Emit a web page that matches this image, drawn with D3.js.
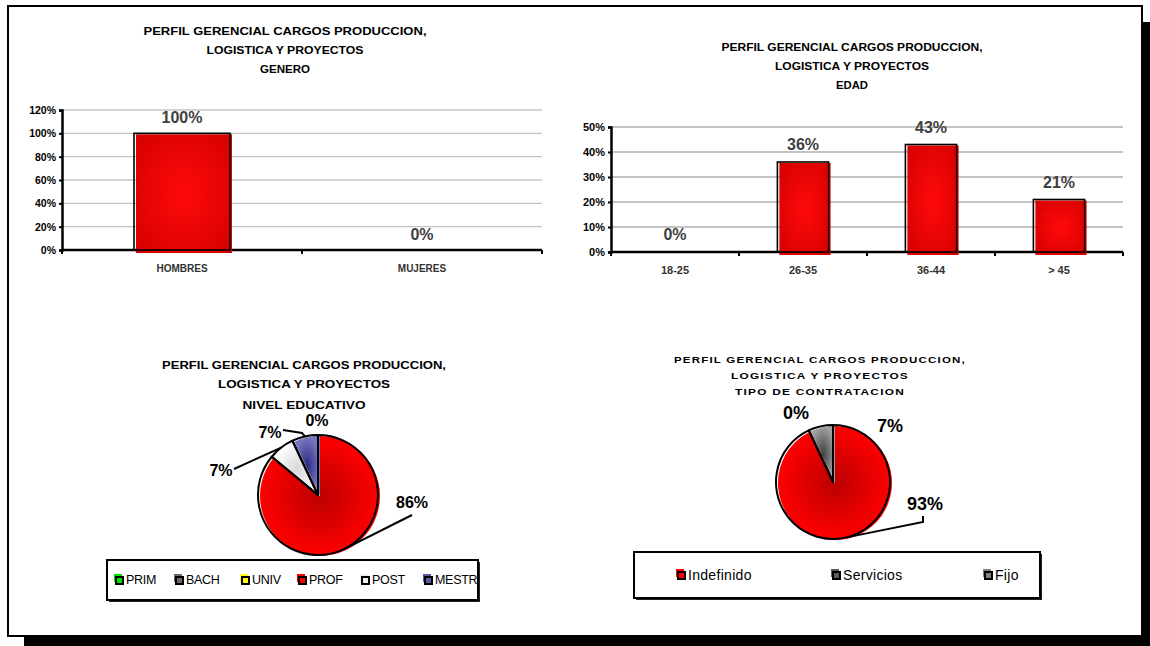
<!DOCTYPE html>
<html>
<head>
<meta charset="utf-8">
<script src="https://cdn.jsdelivr.net/npm/d3@7"></script>
<style>
  html, body { margin: 0; padding: 0; background: #fff; }
  svg { display: block; font-family: "Liberation Sans", Arial, sans-serif; }
</style>
</head>
<body>
<svg id="chart" width="1150" height="646"></svg>
<script>
// ---- data ----
const titleBase = ["PERFIL GERENCIAL CARGOS PRODUCCION,", "LOGISTICA Y PROYECTOS"];

const generoCategories = ["HOMBRES", "MUJERES"];
const generoValues = [1.00, 0.00];
const generoTicks = [0, 0.2, 0.4, 0.6, 0.8, 1.0, 1.2];

const edadCategories = ["18-25", "26-35", "36-44", "> 45"];
const edadValues = [0.00, 0.36, 0.43, 0.21];
const edadTicks = [0, 0.1, 0.2, 0.3, 0.4, 0.5];

const eduCategories = ["PRIM", "BACH", "UNIV", "PROF", "POST", "MESTR"];
const eduValues = [0, 0, 0, 86, 7, 7];
const eduColors = ["#00e000", "#6a6a6a", "#ffff00", "#ff0000", "#f0f0f0", "#5a5aa8"];

const contratoCategories = ["Indefinido", "Servicios", "Fijo"];
const contratoValues = [93, 0, 7];
const contratoColors = ["#ff0000", "#5c5c5c", "#808080"];

const pct = d3.format(".0%");
const svg = d3.select("#chart");
const defs = svg.append("defs");

// ---- gradients ----
function radial(id, inner, outer, r) {
  const g = defs.append("radialGradient").attr("id", id).attr("cx", "50%").attr("cy", "50%").attr("r", r || "60%");
  g.append("stop").attr("offset", "0%").attr("stop-color", inner);
  g.append("stop").attr("offset", "100%").attr("stop-color", outer);
}
radial("barRed", "#ff0a0a", "#d40000", "70%");
radial("pieRed", "#bb0000", "#ff0000", "50%");
radial("pieBlue", "#2a2a80", "#7878c0", "50%");
radial("pieWhite", "#d8d8d8", "#ffffff", "50%");
radial("pieGray", "#404040", "#a0a0a0", "50%");
radial("pieDark", "#3a3a3a", "#7a7a7a", "50%");

// ---- outer frame with drop shadow ----
svg.append("rect").attr("x", 24).attr("y", 22).attr("width", 1126).attr("height", 624).attr("fill", "#000");
svg.append("rect").attr("x", 8).attr("y", 6).attr("width", 1134).attr("height", 630)
  .attr("fill", "#fff").attr("stroke", "#000").attr("stroke-width", 2);

// ---- shared helpers ----
function title(lines, cx, ys, size, widths, spacing) {
  const t = svg.append("g").attr("font-weight", "bold").attr("font-size", size).attr("fill", "#000");
  lines.forEach((s, i) => {
    const el = t.append("text").attr("x", cx).attr("y", ys[i]).attr("text-anchor", "middle").text(s);
    if (spacing) el.attr("letter-spacing", spacing);
    if (widths && widths[i]) el.attr("textLength", widths[i]).attr("lengthAdjust", "spacingAndGlyphs");
  });
}

function barChart(opts) {
  const { cats, vals, ticks, x0, x1, yTop, yBottom, max, tickSize, catSize, labelOffset, gridWidth } = opts;
  const x = d3.scaleBand().domain(cats).range([x0, x1]).paddingInner(0.6).paddingOuter(0.3);
  const y = d3.scaleLinear().domain([0, max]).range([yBottom, yTop]);
  const g = svg.append("g");

  // gridlines
  g.selectAll("line.grid").data(ticks.filter(d => d > 0)).join("line")
    .attr("x1", x0).attr("x2", x1).attr("y1", d => y(d)).attr("y2", d => y(d))
    .attr("stroke", "#c4c4c4").attr("stroke-width", gridWidth);

  // y axis
  const ya = g.append("g").attr("transform", `translate(${x0},0)`)
    .call(d3.axisLeft(y).tickValues(ticks).tickFormat(d3.format(".0%")).tickSize(3).tickPadding(3));
  ya.select(".domain").attr("stroke", "#000").attr("stroke-width", 2.5);
  ya.selectAll(".tick line").attr("stroke", "#000").attr("stroke-width", 2);
  ya.selectAll(".tick text").attr("font-size", tickSize).attr("font-weight", "bold").attr("fill", "#000")
    .attr("font-family", "Liberation Sans, Arial, sans-serif");

  // x axis (ticks between categories)
  const xa = g.append("g").attr("transform", `translate(0,${yBottom})`);
  xa.append("line").attr("x1", x0).attr("x2", x1).attr("stroke", "#000").attr("stroke-width", 2.5);
  const edges = d3.range(cats.length + 1).map(i => x0 + i * x.step());
  xa.selectAll("line.tk").data(edges).join("line")
    .attr("x1", d => d).attr("x2", d => d).attr("y1", 0).attr("y2", 4)
    .attr("stroke", "#000").attr("stroke-width", 2);
  xa.selectAll("text").data(cats).join("text")
    .attr("x", d => x(d) + x.bandwidth() / 2).attr("y", 22)
    .attr("text-anchor", "middle").attr("font-size", catSize).attr("font-weight", "bold").attr("fill", "#333")
    .text(d => d);

  // bars: red body slightly offset from its black outline
  const data = cats.map((c, i) => ({ c, v: vals[i] }));
  const bars = g.selectAll("g.bar").data(data.filter(d => d.v > 0)).join("g");
  bars.append("rect")
    .attr("x", d => x(d.c) + 2).attr("y", d => y(d.v) + 1)
    .attr("width", x.bandwidth()).attr("height", d => yBottom - y(d.v) + 2)
    .attr("fill", "url(#barRed)");
  bars.append("rect")
    .attr("x", d => x(d.c)).attr("y", d => y(d.v))
    .attr("width", x.bandwidth()).attr("height", d => yBottom - y(d.v))
    .attr("fill", "none").attr("stroke", "#000").attr("stroke-width", 1.6);

  // value labels
  g.selectAll("text.val").data(data).join("text")
    .attr("x", d => x(d.c) + x.bandwidth() / 2).attr("y", d => y(d.v) - labelOffset)
    .attr("text-anchor", "middle").attr("font-size", 16).attr("font-weight", "bold").attr("fill", "#404040")
    .text(d => pct(d.v));
}

// ---- GENERO ----
title([...titleBase, "GENERO"], 285, [35, 54, 73], 11, [283, 157, 50]);
barChart({ cats: generoCategories, vals: generoValues, ticks: generoTicks, x0: 62, x1: 542,
  yTop: 110, yBottom: 250, max: 1.2, tickSize: 10.5, catSize: 10, labelOffset: 10, gridWidth: 1.3 });

// ---- EDAD ----
title([...titleBase, "EDAD"], 852, [51, 70, 89], 10.5, [261, 154, 32]);
barChart({ cats: edadCategories, vals: edadValues, ticks: edadTicks, x0: 611, x1: 1123,
  yTop: 127, yBottom: 252, max: 0.5, tickSize: 11, catSize: 11, labelOffset: 12, gridWidth: 2 });

// ---- pie helper ----
function pieChart(opts) {
  const { cats, vals, fills, cx, cy, r, labelFont, labels, legend } = opts;
  const pie = d3.pie().sort(null).value(d => d)(vals);
  const arc = d3.arc().innerRadius(0).outerRadius(r);
  const g = svg.append("g").attr("transform", `translate(${cx},${cy})`);

  // filled slices, drawn slightly offset from the outline
  g.append("g").attr("transform", "translate(2,1)")
    .selectAll("path").data(pie.filter(d => d.value > 0)).join("path")
    .attr("d", arc).attr("fill", d => fills[d.index]);
  g.append("g").selectAll("path").data(pie.filter(d => d.value > 0)).join("path")
    .attr("d", arc).attr("fill", "none").attr("stroke", "#000").attr("stroke-width", 2).attr("stroke-linejoin", "round");

  // data labels with leader lines
  labels.forEach(l => {
    const d = pie[l.i];
    const mid = (d.startAngle + d.endAngle) / 2;
    if (l.lead) {
      const ex = Math.sin(mid) * r, ey = -Math.cos(mid) * r;
      g.append("polyline")
        .attr("points", [...l.lead, [ex, ey]].map(p => p.join(",")).join(" "))
        .attr("fill", "none").attr("stroke", "#000").attr("stroke-width", 2);
    }
    g.append("text").attr("x", l.dx).attr("y", l.dy)
      .attr("text-anchor", "middle").attr("font-size", labelFont).attr("font-weight", "bold").attr("fill", "#000")
      .text(d3.format(".0f")(d.value) + "%");
  });

  // legend box
  const lg = svg.append("g");
  lg.append("rect").attr("x", legend.x + 2).attr("y", legend.y + 2).attr("width", legend.w).attr("height", legend.h).attr("fill", "#222");
  lg.append("rect").attr("x", legend.x).attr("y", legend.y).attr("width", legend.w).attr("height", legend.h)
    .attr("fill", "#fff").attr("stroke", "#000").attr("stroke-width", 2);
  const items = lg.selectAll("g.item").data(cats).join("g")
    .attr("transform", (d, i) => `translate(${legend.xs[i]},${legend.y + legend.h / 2})`);
  items.append("rect").attr("x", -2).attr("y", -6).attr("width", 8).attr("height", 8).attr("fill", (d, i) => legend.swatch[i]);
  items.append("rect").attr("x", 0).attr("y", -3).attr("width", 7).attr("height", 7)
    .attr("fill", (d, i) => legend.swatch[i]).attr("stroke", "#000").attr("stroke-width", 2);
  items.append("text").attr("x", 10).attr("y", legend.textDy).attr("font-size", legend.font)
    .attr("letter-spacing", legend.spacing).attr("fill", "#000").text(d => d);
}

// ---- NIVEL EDUCATIVO ----
title([...titleBase, "NIVEL EDUCATIVO"], 304, [369, 388, 409], 11.5, [284, 172, 123]);
pieChart({
  cats: eduCategories, vals: eduValues,
  fills: ["#00e000", "#6a6a6a", "#ffff00", "url(#pieRed)", "url(#pieWhite)", "url(#pieBlue)"],
  cx: 318, cy: 495, r: 60, labelFont: 16,
  labels: [
    { i: 2, dx: -1, dy: -69 },
    { i: 5, dx: -48, dy: -57, lead: [[-35, -65], [-16, -62]] },
    { i: 4, dx: -97, dy: -19, lead: [[-84, -26]] },
    { i: 3, dx: 94, dy: 13, lead: [[94, 20]] }
  ],
  legend: { x: 107, y: 560, w: 371, h: 40, xs: [116, 176, 242, 299, 362, 425],
    swatch: eduColors, font: 12.5, textDy: 4, spacing: -0.3 }
});

// ---- TIPO DE CONTRATACION ----
title([...titleBase, "TIPO DE CONTRATACION"], 820, [363, 379, 395], 9.5, [292, 178, 170], 1);
pieChart({
  cats: contratoCategories, vals: contratoValues,
  fills: ["url(#pieRed)", "url(#pieDark)", "url(#pieGray)"],
  cx: 833, cy: 482, r: 57, labelFont: 18,
  labels: [
    { i: 1, dx: -37, dy: -63 },
    { i: 2, dx: 57, dy: -50 },
    { i: 0, dx: 92, dy: 28, lead: [[90, 34], [90, 40]] }
  ],
  legend: { x: 634, y: 552, w: 406, h: 46, xs: [678, 833, 985],
    swatch: contratoColors, font: 14, textDy: 5, spacing: 0.3 }
});
</script>
</body>
</html>
